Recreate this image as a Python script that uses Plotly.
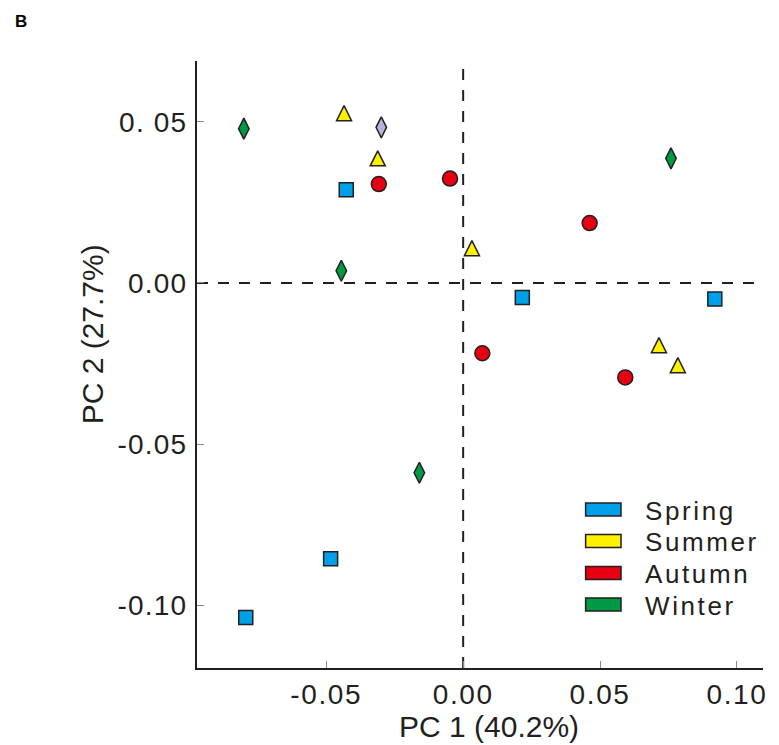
import plotly.graph_objects as go

# ---- data ----
spring_x = [-0.0427, 0.0216, 0.0919, -0.0484, -0.0794]
spring_y = [0.0289, -0.0045, -0.0050, -0.0856, -0.1038]

summer_x = [-0.0435, -0.0312, 0.0032, 0.0715, 0.0784]
summer_y = [0.0527, 0.0387, 0.0108, -0.0193, -0.0255]

autumn_x = [-0.0308, -0.0048, 0.0462, 0.0070, 0.0592]
autumn_y = [0.0307, 0.0324, 0.0186, -0.0218, -0.0293]

winter_x = [-0.0801, 0.0759, -0.0445, -0.0160]
winter_y = [0.0479, 0.0387, 0.0038, -0.0589]

other_x = [-0.0299]
other_y = [0.0483]

seasons = ["Spring", "Summer", "Autumn", "Winter"]
season_colors = ["#00a0e9", "#fff100", "#e60012", "#009944"]
other_color = "#b5b5dc"

x_tickvals = [-0.05, 0.0, 0.05, 0.10]
x_ticktext = ["-0.05", "0.00", "0.05", "0.10"]
y_tickvals = [-0.10, -0.05, 0.0, 0.05]
y_ticktext = ["-0.10", "-0.05", "0.00", "0. 05"]

x_title = "PC 1 (40.2%)"
y_title = "PC 2 (27.7%)"
panel_label = "B"

# ---- styles ----
# marker styles per season: (symbol, size, angle, standoff)
season_markers = [
    ("square", 14, 0, 0),
    ("arrow-down", 15, 180, 7.5),   # equilateral-ish up triangle centred on the point
    ("circle", 15, 0, 0),
    ("diamond-tall", 15, 0, 0),
]

# ---- layout geometry (page body has an 8px margin) ----
OFF = 8
W, H = 779 - OFF, 745 - OFF
ML, MT = 197 - OFF, 61 - OFF
PW, PH = 568, 607
MR = W - ML - PW
MB = H - MT - PH
INK = "#231f20"
FONT = "Liberation Sans, Arial, Helvetica, sans-serif"


def fx(px):
    return (px - OFF - ML) / PW


def fy(py):
    return (MT + PH - (py - OFF)) / PH


def spaced(t, ls):
    return '<span style="letter-spacing:%.1fpx">%s</span>' % (ls, t)


fig = go.Figure()

series = [(spring_x, spring_y), (summer_x, summer_y), (autumn_x, autumn_y), (winter_x, winter_y)]
for name, (xs, ys), col, (sym, sz, ang, so) in zip(seasons, series, season_colors, season_markers):
    mk = dict(symbol=sym, size=sz, color=col, line=dict(color=INK, width=1.5))
    if ang:
        mk["angle"] = ang
    if so:
        mk["standoff"] = so
    fig.add_trace(go.Scatter(x=xs, y=ys, mode="markers", name=name, showlegend=False, marker=mk))

fig.add_trace(go.Scatter(
    x=other_x, y=other_y, mode="markers", showlegend=False,
    marker=dict(symbol="diamond-tall", size=15, color=other_color, line=dict(color=INK, width=1.5)),
))

# dashed reference lines
fig.add_shape(type="line", xref="x domain", yref="y", x0=0, x1=0.985, y0=0, y1=0,
              line=dict(color=INK, width=2, dash="11px,10px"), layer="below")
fig.add_shape(type="line", xref="x", yref="y domain", x0=0, x1=0, y0=0, y1=0.995,
              line=dict(color=INK, width=2, dash="11px,10px"), layer="below")

# manual legend (rectangle swatches)
row_centers = [509.5, 541, 573, 604.5]
for name, col, pyc in zip(seasons, season_colors, row_centers):
    fig.add_shape(type="rect", xref="paper", yref="paper",
                  x0=fx(587), x1=fx(622.5), y0=fy(pyc + 6.5), y1=fy(pyc - 6.5),
                  fillcolor=col, line=dict(color=INK, width=1.5))
    fig.add_annotation(text=spaced(name, 2.6), xref="paper", yref="paper", x=fx(645), y=fy(pyc + 1),
                       xanchor="left", yanchor="middle", showarrow=False,
                       font=dict(family=FONT, size=26, color=INK))

# axis titles
fig.add_annotation(text=x_title, xref="paper", yref="paper", x=fx(490), y=fy(726),
                   xanchor="center", yanchor="middle", showarrow=False,
                   font=dict(family=FONT, size=30, color=INK))
fig.add_annotation(text=y_title, xref="paper", yref="paper", x=fx(92), y=fy(334),
                   xanchor="center", yanchor="middle", showarrow=False, textangle=-90,
                   font=dict(family=FONT, size=30, color=INK))
fig.add_annotation(text="<b>" + panel_label + "</b>", xref="paper", yref="paper",
                   x=fx(12), y=fy(21), xanchor="left", yanchor="middle", showarrow=False,
                   font=dict(family=FONT, size=17, color="#000000"))

fig.update_layout(
    width=W, height=H,
    margin=dict(l=ML, r=MR, t=MT, b=MB, pad=0),
    paper_bgcolor="white", plot_bgcolor="white",
    showlegend=False,
    font=dict(family=FONT, color=INK),
)
fig.update_xaxes(
    range=[-0.0972, 0.1095], showgrid=False, zeroline=False,
    showline=True, linecolor=INK, linewidth=2, mirror=False,
    tickmode="array", tickvals=x_tickvals, ticktext=[spaced(t, 1.6) for t in x_ticktext],
    ticks="inside", ticklen=7, tickwidth=1, tickcolor="#8a8a8a",
    tickfont=dict(family=FONT, size=28, color=INK), ticklabelstandoff=0,
)
fig.update_yaxes(
    range=[-0.1195, 0.0689], showgrid=False, zeroline=False,
    showline=True, linecolor=INK, linewidth=2, mirror=False,
    tickmode="array", tickvals=y_tickvals, ticktext=[spaced(t, 1.2) for t in y_ticktext],
    ticks="inside", ticklen=7, tickwidth=1, tickcolor="#8a8a8a",
    tickfont=dict(family=FONT, size=28, color=INK), ticklabelstandoff=2,
)

fig.write_html("out.html")
